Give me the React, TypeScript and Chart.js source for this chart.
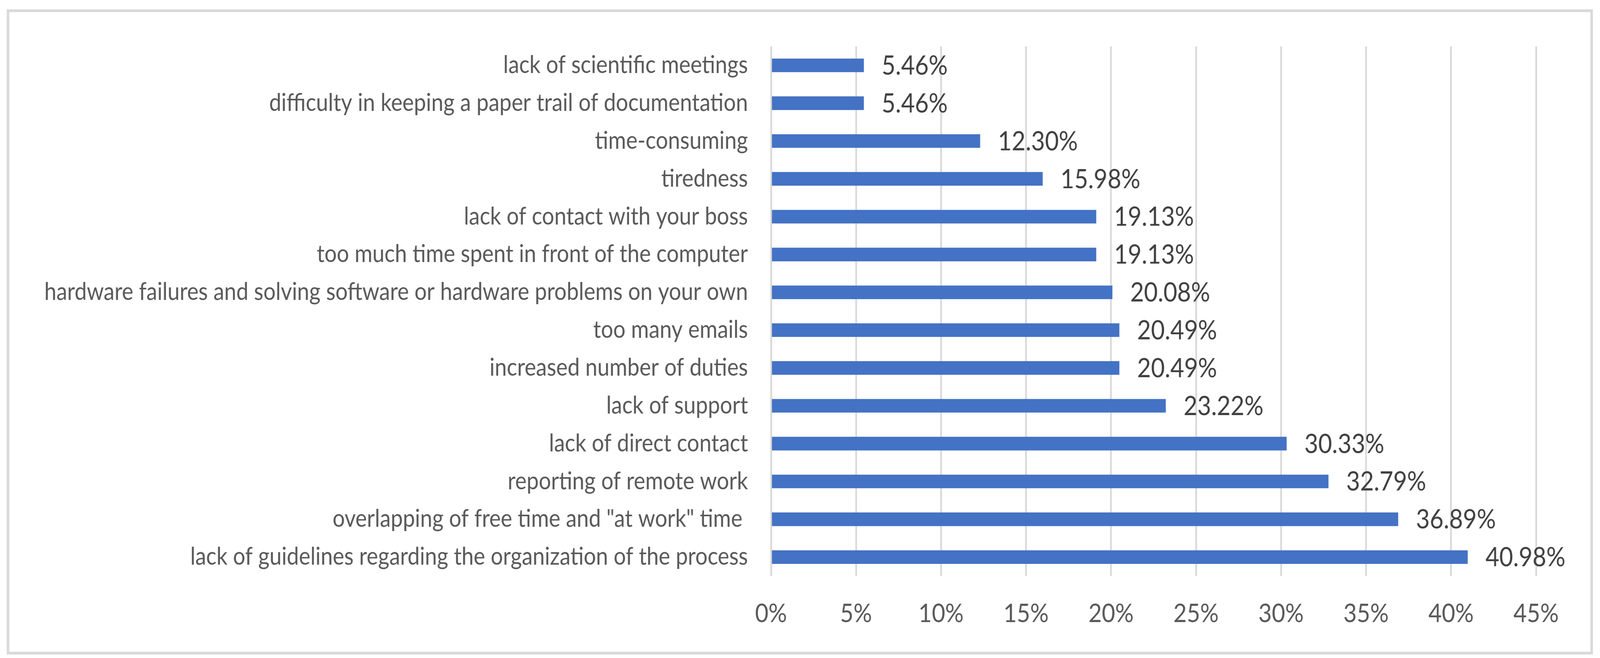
import React, { useEffect, useRef, useState } from "react";
import { Chart, registerables } from "chart.js";

Chart.register(...registerables);

const categories: string[] = [
  "lack of scientific meetings",
  "difficulty in keeping a paper trail of documentation",
  "time-consuming",
  "tiredness",
  "lack of contact with your boss",
  "too much time spent in front of the computer",
  "hardware failures and solving software or hardware problems on your own",
  "too many emails",
  "increased number of duties",
  "lack of support",
  "lack of direct contact",
  "reporting of remote work",
  'overlapping of free time and "at work" time ',
  "lack of guidelines regarding the organization of the process",
];

const values: number[] = [
  5.46, 5.46, 12.3, 15.98, 19.13, 19.13, 20.08, 20.49, 20.49, 23.22, 30.33,
  32.79, 36.89, 40.98,
];

const tickLabels: string[] = [
  "0%", "5%", "10%", "15%", "20%", "25%", "30%", "35%", "40%", "45%",
];

const FONT = "Lato, 'Liberation Sans', sans-serif";

// design size of the reference picture
const W = 4503;
const H = 1685;

export default function App() {
  const ref = useRef<HTMLCanvasElement | null>(null);
  const [size, setSize] = useState({
    w: Math.min(window.innerWidth || W, W),
    h: window.innerHeight || H,
  });

  useEffect(() => {
    setSize({ w: Math.min(window.innerWidth || W, W), h: window.innerHeight || H });
  }, []);

  useEffect(() => {
    if (!ref.current) return;

    const framePlugin = {
      id: "frame",
      beforeDraw(chart: any) {
        const ctx = chart.ctx;
        ctx.save();
        ctx.fillStyle = "#ffffff";
        ctx.fillRect(0, 0, chart.width, chart.height);
        ctx.restore();
      },
      afterDraw(chart: any) {
        const ctx = chart.ctx;
        ctx.save();
        ctx.strokeStyle = "#d9d9d9";
        ctx.lineWidth = 7;
        ctx.strokeRect(22.5, 27.5, 4457, 1645);
        ctx.restore();
      },
    };

    const dataLabelPlugin = {
      id: "dataLabels",
      afterDatasetsDraw(chart: any) {
        const ctx = chart.ctx;
        const meta = chart.getDatasetMeta(0);
        ctx.save();
        ctx.font = `67px ${FONT}`;
        ctx.fillStyle = "#404040";
        ctx.textAlign = "left";
        ctx.textBaseline = "middle";
        meta.data.forEach((el: any, i: number) => {
          ctx.fillText(values[i].toFixed(2) + "%", el.x + 50, el.y + 2);
        });
        ctx.restore();
      },
    };

    const chart = new Chart(ref.current, {
      type: "bar",
      data: {
        labels: categories,
        datasets: [
          {
            data: values,
            backgroundColor: "#4472C4",
            borderWidth: 0,
            categoryPercentage: 1,
            barPercentage: 0.36,
          },
        ],
      },
      options: {
        indexAxis: "y",
        animation: false,
        responsive: false,
        devicePixelRatio: 1,
        layout: { padding: { left: 0, right: 180, top: 119, bottom: 0 } },
        plugins: {
          legend: { display: false },
          tooltip: { enabled: false },
          title: { display: false },
        },
        scales: {
          x: {
            min: 0,
            max: 45,
            ticks: {
              stepSize: 5,
              callback: (v: any, i: number) => tickLabels[i] ?? v + "%",
              font: { family: FONT, size: 65 },
              color: "#595959",
              padding: 58,
              maxRotation: 0,
            },
            grid: { color: "#d9d9d9", lineWidth: 5, drawTicks: false },
            border: { display: false },
            afterFit: (s: any) => {
              s.height = H - 1475;
            },
          },
          y: {
            ticks: {
              font: { family: FONT, size: 61 },
              color: "#595959",
              padding: 65,
              autoSkip: false,
            },
            grid: { display: false, drawTicks: false },
            border: { display: false },
            afterFit: (s: any) => {
              s.width = 2170;
            },
          },
        },
      },
      plugins: [framePlugin, dataLabelPlugin],
    });
    return () => chart.destroy();
  }, []);

  return (
    <div
      style={{
        position: "fixed",
        left: 0,
        top: 0,
        width: size.w,
        height: size.h,
        background: "#ffffff",
        overflow: "hidden",
      }}
    >
      <canvas
        ref={ref}
        width={W}
        height={H}
        style={{
          position: "absolute",
          left: 0,
          top: 0,
          width: size.w + "px",
          height: size.h + "px",
          display: "block",
        }}
      />
    </div>
  );
}
